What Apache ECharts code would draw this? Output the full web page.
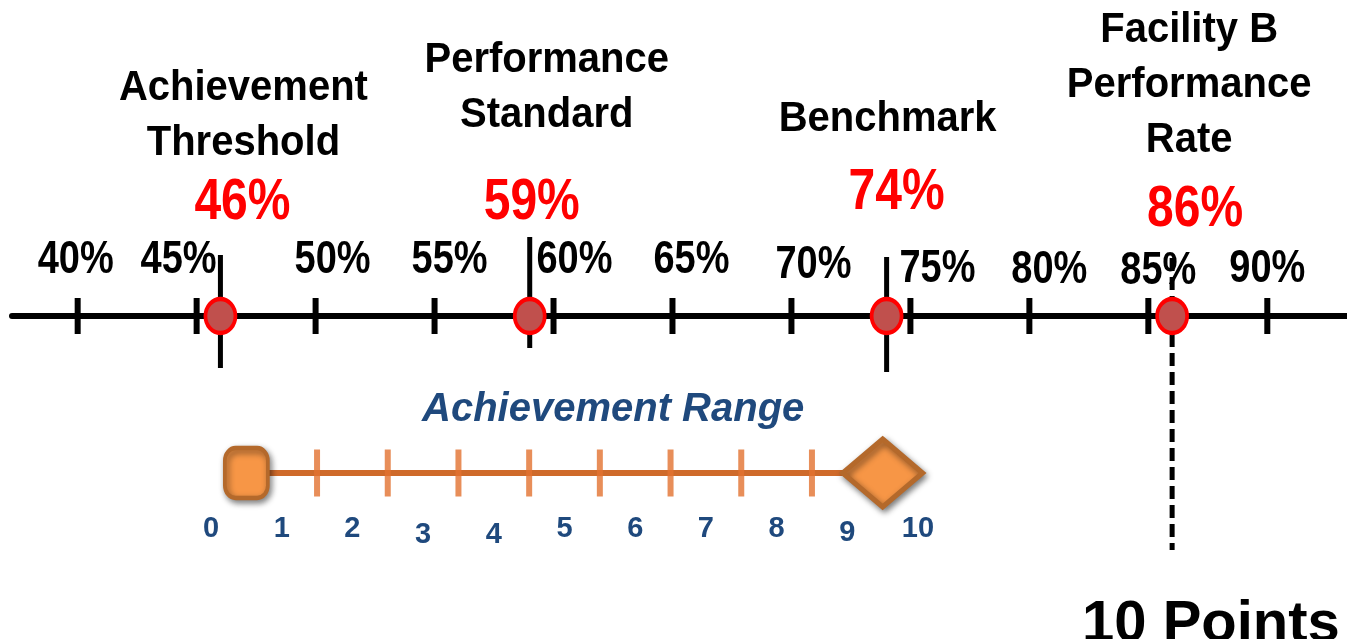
<!DOCTYPE html>
<html><head><meta charset="utf-8">
<script src="https://cdn.jsdelivr.net/npm/echarts@6/dist/echarts.min.js"></script>
<style>html,body{margin:0;padding:0;background:#fff}#c{width:1347px;height:639px}</style>
</head><body><div id="c"></div>
<script>
// ---------- data ----------
const PERCENT_TICKS = [40, 45, 50, 55, 60, 65, 70, 75, 80, 85, 90];
const MARKER_NAMES = ['Achievement\nThreshold', 'Performance\nStandard', 'Benchmark', 'Facility B\nPerformance\nRate'];
const MARKER_VALUES = [46, 59, 74, 86];
const POINT_LABELS = ['0', '1', '2', '3', '4', '5', '6', '7', '8', '9', '10'];
const RANGE_ENDS = [0.5, 9.5];
const RANGE_TICKS = [1.5, 2.5, 3.5, 4.5, 5.5, 6.5, 7.5, 8.5];
const RANGE_TITLE = 'Achievement Range';
const RESULT_TEXT = '10 Points';

// ---------- style / layout ----------
const AXIS_MIN = 37.24, AXIS_MAX = 93.35;
const SANS = "'Liberation Sans',Arial,sans-serif";
const BLUE = '#1F497D';
// per-label nudges [dx, dy] relative to the tick position on the axis line
const TICK_LABEL_NUDGE = {40: [-2, -56], 45: [-18, -56], 50: [17, -56], 55: [15, -56], 60: [21, -56], 65: [19, -56],
                          70: [22, -51], 75: [27, -47], 80: [20, -46], 85: [10, -45], 90: [0, -47]};
const LOW_POINT_LABELS = {'3': 3, '4': 3, '9': 2};
const MARKER_LAYOUT = [
  {up: 61, down: 52, dashed: false, titleDx: 23, titleDy: -200, pctDx: 22, pctDy: -113},
  {up: 79, down: 32, dashed: false, titleDx: 17, titleDy: -228, pctDx: 2, pctDy: -113},
  {up: 59, down: 56, dashed: false, titleDx: 1, titleDy: -197, pctDx: 10, pctDy: -123},
  {up: 58, down: 234, dashed: true, titleDx: 17, titleDy: -231, pctDx: 23, pctDy: -106}
];

const pointRich = {
  n: {fontFamily: SANS, fontSize: 29, fontWeight: 'bold', color: BLUE}
};
Object.keys(LOW_POINT_LABELS).forEach(k => {
  pointRich['d' + k] = {fontFamily: SANS, fontSize: 29, fontWeight: 'bold', color: BLUE,
                        padding: [2 * LOW_POINT_LABELS[k], 0, 0, 0]};
});

const chart = echarts.init(document.getElementById('c'), null, {renderer: 'canvas'});
chart.setOption({
  animation: false,
  backgroundColor: '#fff',
  title: [
    {text: RANGE_TITLE, left: 422, top: 390, padding: 0,
     textStyle: {fontFamily: SANS, fontSize: 40, fontWeight: 'bold', fontStyle: 'italic', color: BLUE, lineHeight: 40}},
    {text: RESULT_TEXT, left: 1082, top: 596, padding: 0,
     textStyle: {fontFamily: SANS, fontSize: 58, fontWeight: 'bold', color: '#000', lineHeight: 58}}
  ],
  grid: [
    {left: 12, right: 0, top: 0, height: 632, containLabel: false, outerBoundsMode: 'none'},
    {left: 175.65, width: 777.7, top: 433, height: 80, containLabel: false, outerBoundsMode: 'none'}
  ],
  xAxis: [
    {type: 'value', gridIndex: 0, min: AXIS_MIN, max: AXIS_MAX,
     axisLine: {show: true, onZero: true, lineStyle: {color: '#000', width: 6}},
     axisTick: {show: false}, splitLine: {show: false}, axisLabel: {show: false}},
    {type: 'category', gridIndex: 1, data: POINT_LABELS, boundaryGap: true, position: 'bottom',
     axisLine: {show: false, onZero: false}, axisTick: {show: false}, splitLine: {show: false},
     axisLabel: {interval: 0, margin: 1, verticalAlign: 'top',
                 formatter: v => (LOW_POINT_LABELS[v] ? '{d' + v + '|' + v + '}' : '{n|' + v + '}'),
                 rich: pointRich}},
    {type: 'value', gridIndex: 1, min: -0.5, max: 10.5, show: false}
  ],
  yAxis: [
    {type: 'value', gridIndex: 0, min: -1, max: 1, show: false},
    {type: 'value', gridIndex: 1, min: -1, max: 1, show: false}
  ],
  series: [
    {
      // percent scale ticks + labels
      type: 'custom', xAxisIndex: 0, yAxisIndex: 0, z: 3, clip: false, silent: true,
      data: PERCENT_TICKS.map(v => [v, 0]),
      renderItem(params, api) {
        const v = api.value(0);
        const p = api.coord([v, 0]);
        const n = TICK_LABEL_NUDGE[v] || [0, -53];
        return {type: 'group', children: [
          {type: 'rect', shape: {x: p[0] - 3, y: p[1] - 18, width: 6, height: 36}, style: {fill: '#000'}},
          {type: 'text', x: p[0] + n[0], y: p[1] + n[1], scaleY: 1.22,
           style: {text: v + '%', fill: '#000', fontFamily: SANS, fontSize: 38, fontWeight: 'bold',
                   align: 'center', verticalAlign: 'middle'}}
        ]};
      }
    },
    {
      // markers: vertical lines, names and values
      type: 'custom', xAxisIndex: 0, yAxisIndex: 0, z: 2, clip: false, silent: true,
      data: MARKER_VALUES.map(v => [v, 0]),
      renderItem(params, api) {
        const i = params.dataIndex;
        const L = MARKER_LAYOUT[i];
        const p = api.coord([api.value(0), 0]);
        return {type: 'group', children: [
          {type: 'line', shape: {x1: p[0], y1: p[1] - L.up, x2: p[0], y2: p[1] + L.down},
           style: {stroke: '#000', lineWidth: 5, lineDash: L.dashed ? [13, 6] : null}},
          {type: 'text', x: p[0] + L.titleDx, y: p[1] + L.titleDy, scaleY: 1.08,
           style: {text: MARKER_NAMES[i], fill: '#000', fontFamily: SANS, fontSize: 40, fontWeight: 'bold',
                   align: 'center', verticalAlign: 'middle', lineHeight: 51}},
          {type: 'text', x: p[0] + L.pctDx, y: p[1] + L.pctDy, scaleY: 1.2,
           style: {text: MARKER_VALUES[i] + '%', fill: '#FF0000', fontFamily: SANS, fontSize: 48, fontWeight: 'bold',
                   align: 'center', verticalAlign: 'middle'}}
        ]};
      }
    },
    {
      type: 'scatter', xAxisIndex: 0, yAxisIndex: 0, z: 4, silent: true,
      data: MARKER_VALUES.map(v => [v, 0]),
      symbol: 'circle', symbolSize: [30, 34],
      itemStyle: {color: '#C0504D', borderColor: '#FF0000', borderWidth: 4, opacity: 1}
    },
    {
      type: 'line', xAxisIndex: 2, yAxisIndex: 1, z: 2, silent: true,
      data: RANGE_ENDS.map(v => [v, 0]), symbol: 'none',
      lineStyle: {color: '#CF6A2A', width: 6}
    },
    {
      type: 'scatter', xAxisIndex: 2, yAxisIndex: 1, z: 3, silent: true,
      data: RANGE_TICKS.map(v => [v, 0]),
      symbol: 'rect', symbolSize: [6, 47], itemStyle: {color: '#E2722F'}
    },
    {
      type: 'scatter', xAxisIndex: 2, yAxisIndex: 1, z: 4, silent: true,
      data: [[RANGE_ENDS[0], 0]], symbol: 'roundRect', symbolSize: [43, 50],
      itemStyle: {color: '#F79646', borderColor: '#B4692B', borderWidth: 4, opacity: 1,
                  shadowBlur: 6, shadowColor: 'rgba(0,0,0,0.45)', shadowOffsetX: 2, shadowOffsetY: 3}
    },
    {
      type: 'scatter', xAxisIndex: 2, yAxisIndex: 1, z: 4, silent: true,
      data: [[RANGE_ENDS[1], 0]], symbol: 'diamond', symbolSize: [80, 68],
      itemStyle: {color: '#F79646', borderColor: '#B4692B', borderWidth: 5, opacity: 1,
                  shadowBlur: 6, shadowColor: 'rgba(0,0,0,0.45)', shadowOffsetX: 2, shadowOffsetY: 3}
    }
  ]
});
</script>
</body></html>
